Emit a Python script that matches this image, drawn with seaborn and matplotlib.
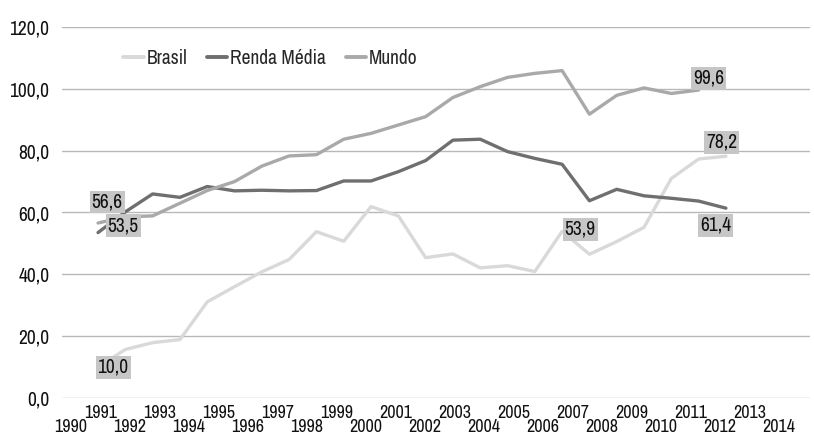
"""
Line chart: Brasil vs Renda Média vs Mundo (index), grayscale Excel-style.
"""

import matplotlib
matplotlib.use("Agg")
import matplotlib.pyplot as plt
import matplotlib.ticker as mticker
from matplotlib import font_manager
import pandas as pd
import seaborn as sns

# data
years = list(range(1991, 2015))
brasil = [10.0, 15.7, 17.9, 18.9, 31.1, 36.0, 40.8, 44.8, 53.8, 50.7, 61.9, 58.9,
          45.4, 46.6, 42.1, 42.8, 40.9, 53.9, 46.5, 50.6, 55.2, 71.0, 77.3, 78.2]
renda_media = [53.5, 60.2, 66.0, 64.9, 68.4, 67.0, 67.2, 67.0, 67.1, 70.2, 70.2, 73.2,
               76.8, 83.4, 83.7, 79.7, 77.5, 75.6, 63.8, 67.5, 65.4, 64.6, 63.7, 61.4]
mundo = [56.6, 58.6, 58.9, 63.0, 67.1, 70.0, 75.0, 78.3, 78.7, 83.7, 85.6, 88.3,
         91.0, 97.2, 100.7, 103.7, 105.0, 105.9, 91.8, 97.9, 100.3, 98.5, 99.6]
axis_years = list(range(1990, 2015))
y_ticks = [0, 20, 40, 60, 80, 100, 120]

series_names = ["Brasil", "Renda Média", "Mundo"]
series_colors = {"Brasil": "#d9d9d9", "Renda Média": "#6f6f6f", "Mundo": "#a9a9a9"}

df = pd.concat([
    pd.DataFrame({"Ano": years, "Valor": brasil, "Serie": "Brasil"}),
    pd.DataFrame({"Ano": years, "Valor": renda_media, "Serie": "Renda Média"}),
    pd.DataFrame({"Ano": years[:len(mundo)], "Valor": mundo, "Serie": "Mundo"}),
])

sns.set_theme(style="white")

# the reference uses a narrow sans; take one if the system has it
narrow = sorted({f.name for f in font_manager.fontManager.ttflist
                 if "Narrow" in f.name or "Condensed" in f.name})
if narrow:
    plt.rcParams['font.family'] = [narrow[0], 'Liberation Sans', 'DejaVu Sans']
    FS, FS_X = 14, 13
else:
    plt.rcParams['font.family'] = ['Liberation Sans', 'DejaVu Sans']
    FS, FS_X = 12, 11

fig = plt.figure(figsize=(8.14, 4.40), dpi=100)
ax = fig.add_axes([62 / 814, 1 - 398 / 440, 748 / 814, 371 / 440])

sns.lineplot(data=df, x="Ano", y="Valor", hue="Serie", hue_order=series_names,
             palette=series_colors, linewidth=2.4, ax=ax, legend=False)

ax.set_xlim(1989.68, 2017.08)
ax.set_ylim(0, 120)
ax.set_yticks(y_ticks)
ax.yaxis.set_major_formatter(mticker.FuncFormatter(lambda v, p: f"{v:.1f}".replace(".", ",")))
ax.tick_params(axis="y", length=0, pad=9, labelsize=FS, labelcolor="#111111")
ax.set_xticks([])
ax.set_xlabel("")
ax.set_ylabel("")
ax.grid(axis="y", color="#b8b8b8", linewidth=1.0)
ax.grid(axis="x", visible=False)
for s in ax.spines.values():
    s.set_visible(False)

# year labels in two staggered rows (odd on top, even below)
ax2 = ax.twiny()
ax2.set_xlim(1989.695, 2015.05)
ax2.xaxis.set_ticks_position("bottom")
ax2.set_xticks([y for y in axis_years if y % 2 == 1])
ax2.set_xticks([y for y in axis_years if y % 2 == 0], minor=True)
ax2.set_xticklabels([str(y) for y in axis_years if y % 2 == 1])
ax2.set_xticklabels([str(y) for y in axis_years if y % 2 == 0], minor=True)
ax2.tick_params(axis="x", which="major", length=0, pad=5, labelsize=FS_X, labelcolor="#111111")
ax2.tick_params(axis="x", which="minor", length=0, pad=15, labelsize=FS_X, labelcolor="#111111")
for s in ax2.spines.values():
    s.set_visible(False)

# data labels
box = dict(boxstyle="square,pad=0.1", fc="#c6c6c6", ec="none")
labels = [
    (years[0], brasil[0], (15, 0)),
    (years[17], brasil[17], (18, 2)),
    (years[-1], brasil[-1], (-4, 14)),
    (years[0], renda_media[0], (25, 7)),
    (years[-1], renda_media[-1], (-10, -17)),
    (years[0], mundo[0], (9, 21)),
    (years[len(mundo) - 1], mundo[-1], (10, 12)),
]
for x, v, off in labels:
    ax.annotate(f"{v:.1f}".replace(".", ","), (x, v), xytext=off, textcoords="offset pixels",
                ha="center", va="center", fontsize=FS, color="#111111", bbox=box, zorder=5)

handles = [plt.Line2D([], [], color=series_colors[n], linewidth=2.8) for n in series_names]
ax.legend(handles, series_names, loc="center left", bbox_to_anchor=(0.082, 0.916), ncol=3,
          frameon=False, fontsize=FS, handlelength=1.05, handletextpad=0.15,
          columnspacing=1.0, borderpad=0, borderaxespad=0)

fig.savefig("out.png", dpi=100)
